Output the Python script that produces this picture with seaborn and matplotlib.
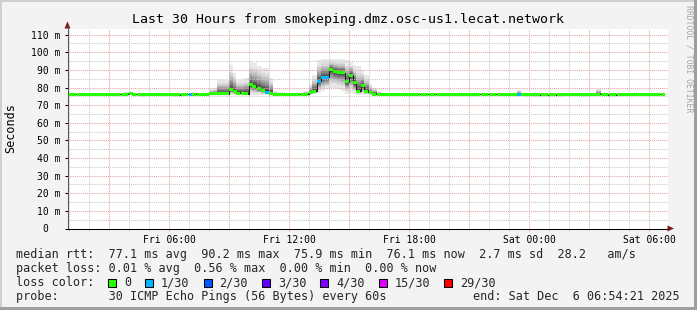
import numpy as np
import pandas as pd
import matplotlib
matplotlib.use("Agg")
import matplotlib.pyplot as plt
import matplotlib.dates as mdates
from matplotlib.patches import Polygon, Rectangle
import seaborn as sns

# ---------------- data ----------------
title = "Last 30 Hours from smokeping.dmz.osc-us1.lecat.network"
y_label = "Seconds"
watermark = "RRDTOOL / TOBI OETIKER"
graph_start = "2025-12-05 00:54:21"
graph_end = "2025-12-06 06:54:21"
first_bin = "2025-12-05 00:57:21"
bin_minutes = 12

median_ms = [
    76.2, 76.2, 76.2, 76.2, 76.1, 76.2, 76.2, 76.2, 76.1, 76.1,
    76.1, 76.2, 76.2, 76.2, 76.2, 76.4, 76.2, 76.1, 76.0, 76.2,
    76.2, 76.2, 76.2, 76.3, 76.3, 76.1, 76.0, 76.0, 76.1, 76.2,
    76.2, 76.2, 76.2, 76.3, 76.3, 76.4, 76.4, 76.5, 76.5, 76.5,
    78.6, 77.7, 76.8, 76.5, 76.6, 81.5, 80.4, 79.3, 78.3, 77.4,
    76.6, 76.2, 76.1, 76.1, 76.1, 76.1, 76.1, 76.1, 76.1, 76.2,
    76.9, 78.0, 83.5, 85.8, 85.8, 90.2, 89.1, 88.5, 88.5, 83.2,
    86.9, 82.7, 77.8, 80.9, 77.7, 76.9, 76.3, 76.1, 76.1, 76.1,
    76.1, 76.1, 76.1, 76.1, 76.1, 76.1, 76.1, 76.1, 76.1, 76.1,
    76.1, 76.1, 76.1, 76.1, 76.1, 76.1, 76.1, 76.1, 76.1, 76.1,
    76.1, 76.1, 76.1, 76.1, 76.1, 76.1, 76.1, 76.1, 76.1, 76.1,
    76.1, 76.1, 76.1, 76.1, 76.0, 76.0, 76.0, 75.9, 75.9, 75.9,
    76.0, 76.0, 76.0, 76.1, 76.2, 76.3, 76.2, 76.0, 75.9, 76.0,
    76.1, 76.1, 76.1, 76.1, 76.0, 76.0, 76.0, 76.1, 76.1, 76.1,
    76.1, 76.1, 76.1, 76.1, 76.1, 76.1, 76.1, 76.1, 76.1,
]

smoke_hi_ms = [
    76.5, 76.5, 76.5, 76.5, 76.4, 76.5, 76.5, 76.5, 76.4, 76.4,
    76.4, 76.5, 76.5, 76.6, 77.6, 77.4, 76.5, 77.0, 76.3, 76.5,
    76.5, 76.5, 76.6, 77.0, 76.9, 76.4, 76.3, 76.3, 76.4, 76.5,
    76.6, 77.4, 76.6, 76.8, 77.0, 79.0, 79.5, 84.5, 84.5, 84.5,
    92.6, 88.5, 84.5, 84.5, 85.6, 94.6, 94.0, 92.5, 91.3, 91.0,
    85.6, 78.0, 77.5, 77.3, 77.0, 76.6, 76.5, 76.7, 77.5, 78.0,
    82.0, 86.9, 95.4, 96.4, 96.4, 96.4, 96.2, 96.0, 96.0, 95.4,
    94.4, 92.6, 92.0, 89.8, 87.0, 82.0, 80.0, 78.0, 77.0, 76.6,
    76.5, 76.5, 76.5, 76.5, 76.5, 76.5, 76.5, 76.5, 76.5, 76.5,
    76.5, 76.4, 76.4, 76.5, 76.4, 76.4, 76.5, 76.4, 76.4, 76.4,
    76.4, 76.4, 76.4, 76.4, 76.4, 76.4, 76.4, 76.4, 76.4, 76.4,
    76.4, 76.4, 78.8, 76.4, 76.3, 77.0, 77.2, 76.8, 76.2, 76.2,
    76.3, 76.3, 76.3, 76.4, 76.5, 76.9, 76.5, 76.3, 76.2, 76.3,
    76.4, 76.4, 79.4, 77.0, 76.3, 76.3, 76.3, 76.8, 76.4, 76.4,
    76.4, 76.4, 76.4, 76.4, 76.4, 76.4, 76.4, 76.4, 76.4,
]

smoke_lo_ms = [
    75.8, 75.8, 75.8, 75.8, 75.7, 75.8, 75.8, 75.8, 75.7, 75.7,
    75.7, 75.8, 75.8, 75.8, 75.8, 76.0, 75.8, 75.7, 75.6, 75.8,
    75.8, 75.8, 75.8, 75.9, 75.9, 75.7, 75.6, 75.6, 75.7, 75.8,
    75.8, 75.8, 75.8, 75.9, 75.9, 75.8, 75.8, 75.8, 75.8, 75.8,
    75.9, 75.9, 75.8, 75.8, 75.8, 76.0, 76.0, 76.0, 75.9, 75.9,
    75.8, 75.8, 75.7, 75.7, 75.7, 75.7, 75.7, 75.7, 75.7, 75.8,
    76.0, 76.2, 77.0, 78.0, 79.0, 80.0, 80.0, 79.0, 78.0, 76.5,
    77.0, 76.5, 76.0, 76.0, 76.0, 76.0, 75.9, 75.7, 75.7, 75.7,
    75.7, 75.7, 75.7, 75.7, 75.7, 75.7, 75.7, 75.7, 75.7, 75.7,
    75.7, 75.7, 75.7, 75.7, 75.7, 75.7, 75.7, 75.7, 75.7, 75.7,
    75.7, 75.7, 75.7, 75.7, 75.7, 75.7, 75.7, 75.7, 75.7, 75.7,
    75.7, 75.7, 75.7, 75.7, 75.6, 75.6, 75.6, 75.5, 75.5, 75.5,
    75.6, 75.6, 75.6, 75.7, 75.8, 75.9, 75.8, 75.6, 75.5, 75.6,
    75.7, 75.7, 75.7, 75.7, 75.6, 75.6, 75.6, 75.7, 75.7, 75.7,
    75.7, 75.7, 75.7, 75.7, 75.7, 75.7, 75.7, 75.7, 75.7,
]

loss_pings = [
    0, 0, 0, 0, 0, 0, 0, 0, 0, 0,
    0, 0, 0, 0, 0, 0, 0, 0, 0, 0,
    0, 0, 0, 0, 0, 0, 0, 0, 0, 0,
    1, 0, 0, 0, 0, 0, 0, 0, 0, 0,
    0, 0, 0, 0, 0, 0, 0, 0, 0, 1,
    0, 0, 0, 0, 0, 0, 0, 0, 0, 0,
    0, 0, 1, 1, 1, 0, 0, 0, 0, 0,
    0, 0, 0, 0, 0, 0, 0, 0, 0, 0,
    0, 0, 0, 0, 0, 0, 0, 0, 0, 0,
    0, 0, 0, 0, 0, 0, 0, 0, 0, 0,
    0, 0, 0, 0, 0, 0, 0, 0, 0, 0,
    0, 0, 1, 0, 0, 0, 0, 0, 0, 0,
    0, 0, 0, 0, 0, 0, 0, 0, 0, 0,
    0, 0, 0, 0, 0, 0, 0, 0, 0, 0,
    0, 0, 0, 0, 0, 0, 0, 0, 0,
]

loss_levels = [0, 1, 2, 3, 4, 15, 29]
loss_labels = ["0", "1/30", "2/30", "3/30", "4/30", "15/30", "29/30"]
loss_colors = ["#26ff00", "#00b8ff", "#0059ff", "#5e00ff", "#7e00ff", "#dd00ff", "#ff0000"]

y_tick_values = [0, 10, 20, 30, 40, 50, 60, 70, 80, 90, 100, 110]
y_tick_labels = ["0  ", "10 m", "20 m", "30 m", "40 m", "50 m", "60 m",
                 "70 m", "80 m", "90 m", "100 m", "110 m"]
x_tick_times = ["2025-12-05 06:00", "2025-12-05 12:00", "2025-12-05 18:00",
                "2025-12-06 00:00", "2025-12-06 06:00"]
x_tick_labels = ["Fri 06:00", "Fri 12:00", "Fri 18:00", "Sat 00:00", "Sat 06:00"]

line_rtt = "median rtt:  77.1 ms avg  90.2 ms max  75.9 ms min  76.1 ms now  2.7 ms sd  28.2   am/s"
line_loss = "packet loss: 0.01 % avg  0.56 % max  0.00 % min  0.00 % now"
line_color = "loss color:"
line_probe = "probe:       30 ICMP Echo Pings (56 Bytes) every 60s"
line_end = "end: Sat Dec  6 06:54:21 2025"

# ---------------- style ----------------
sns.set_theme(style="white")
plt.rcParams["font.family"] = ["DejaVu Sans Mono"]
plt.rcParams["axes.unicode_minus"] = False

W, H = 697, 310
BG = "#f3f3f3"
GRID_MINOR = "#c9c9c9"
GRID_MAJOR = "#e5a3a3"
ARROW = "#7a1a1a"


def fx(x):
    return x / W


def fy(y):
    return 1 - y / H


fig = plt.figure(figsize=(W / 100, H / 100), dpi=100, facecolor=BG)
ax = fig.add_axes([fx(67.5), fy(228.5), 600 / W, 200 / H])
ax.set_facecolor("white")

t0 = pd.Timestamp(graph_start)
t1 = pd.Timestamp(graph_end)
ax.set_xlim(t0, t1)
ax.set_ylim(0, 113.5)

n = len(median_ms)
med = np.array(median_ms)
hi = np.array(smoke_hi_ms)
lo = np.array(smoke_lo_ms)
edges = pd.date_range(first_bin, periods=n + 1, freq=f"{bin_minutes}min")

# smoke: nested bands, lighter outside, darker towards the median
N = 12
for j in range(N):
    g = (j / N) ** 0.55
    upper = hi - (hi - med) * g
    lower = lo + (med - lo) * g
    shade = 0.91 - 0.70 * j / (N - 1)
    ax.fill_between(edges, np.append(lower, lower[-1]), np.append(upper, upper[-1]),
                    step="post", color=str(shade), linewidth=0, zorder=1)

# grid (on top of smoke)
for t in pd.date_range(t0.ceil("h"), t1, freq="1h"):
    major = t.hour % 3 == 0
    ax.axvline(t, color=GRID_MAJOR if major else GRID_MINOR, lw=0.75,
               ls=(0, (1, 1)), zorder=2)
for v in np.arange(5, 113.5, 5):
    major = int(round(v)) % 10 == 0
    ax.axhline(v, color=GRID_MAJOR if major else GRID_MINOR, lw=0.75,
               ls=(0, (1, 1)), zorder=2)

# median line
med_df = pd.DataFrame({"time": edges, "median": np.append(med, med[-1])})
sns.lineplot(data=med_df, x="time", y="median", drawstyle="steps-post",
             color="#1a1a1a", linewidth=0.8, estimator=None, sort=False,
             ax=ax, zorder=3, legend=False)


def loss_color(count):
    c = loss_colors[0]
    for lvl, col in zip(loss_levels, loss_colors):
        if count >= lvl:
            c = col
    return c


bar_colors = [loss_color(c) for c in loss_pings]
ax.bar(edges[:-1], np.full(n, 1.7), bottom=med - 0.85, width=bin_minutes / 1440,
       align="edge", color=bar_colors, linewidth=0, zorder=4)

# axes / ticks
ax.set_xlabel("")
ax.set_ylabel("")
ax.set_yticks(y_tick_values, y_tick_labels)
ax.set_xticks(pd.to_datetime(x_tick_times), x_tick_labels)
ax.xaxis.set_minor_locator(mdates.HourLocator())
ax.tick_params(axis="y", which="major", length=2.5, width=0.75, color="black",
               pad=2.8, labelsize=7, labelcolor="black", left=True)
ax.tick_params(axis="x", which="major", length=1.6, width=0.75, color=GRID_MAJOR,
               pad=3.2, labelsize=7, labelcolor="black", bottom=True)
ax.tick_params(axis="x", which="minor", length=1.6, width=0.75, color=GRID_MINOR,
               bottom=True)
for s in ["top", "right"]:
    ax.spines[s].set_visible(False)
ax.spines["left"].set_color("#555555")
ax.spines["left"].set_linewidth(0.75)
ax.spines["bottom"].set_color("black")
ax.spines["bottom"].set_linewidth(0.75)
ax.grid(False)

# axis arrows
fig.add_artist(Polygon([(fx(67.5), fy(21.5)), (fx(64.5), fy(28.5)), (fx(70.5), fy(28.5))],
                       closed=True, transform=fig.transFigure, color=ARROW, lw=0))
fig.add_artist(plt.Line2D([fx(67.5), fx(67.5)], [fy(28.5), fy(26)],
                          transform=fig.transFigure, color="#555555", lw=0.75))
fig.add_artist(Polygon([(fx(674), fy(228.5)), (fx(667.5), fy(225.5)), (fx(667.5), fy(231.5))],
                       closed=True, transform=fig.transFigure, color=ARROW, lw=0))

# texts
fig.text(fx(348), fy(19), title, ha="center", va="center", fontsize=9.5, color="black")
fig.text(fx(11), fy(128), y_label, rotation=90, ha="center", va="center",
         fontsize=8.5, color="black")
fig.text(fx(689), fy(5), watermark, rotation=270, ha="center", va="top",
         fontsize=5.9, color="#a6a6a6")

LEG_FS = 8.5
CHAR_W = 7.1
fig.text(fx(16), fy(254.5), line_rtt, ha="left", va="center", fontsize=LEG_FS)
fig.text(fx(16), fy(268.5), line_loss, ha="left", va="center", fontsize=LEG_FS)
fig.text(fx(16), fy(282.5), line_color, ha="left", va="center", fontsize=LEG_FS)
bx = 108
for lab, col in zip(loss_labels, loss_colors):
    fig.add_artist(Rectangle((fx(bx), fy(286.5)), 8 / W, 8 / H, transform=fig.transFigure,
                             facecolor=col, edgecolor="black", lw=0.75))
    fig.text(fx(bx + 16), fy(282.5), lab, ha="left", va="center", fontsize=LEG_FS)
    bx = bx + 16 + len(lab) * CHAR_W + 14
fig.text(fx(16), fy(296.5), line_probe, ha="left", va="center", fontsize=LEG_FS)
fig.text(fx(680), fy(296.5), line_end, ha="right", va="center", fontsize=LEG_FS)

# 3D frame
fig.add_artist(Rectangle((0, fy(2)), 1, 2 / H, transform=fig.transFigure, color="#cfcfcf", lw=0))
fig.add_artist(Rectangle((0, 0), 2 / W, 1, transform=fig.transFigure, color="#cfcfcf", lw=0))
fig.add_artist(Rectangle((0, 0), 1, 3 / H, transform=fig.transFigure, color="#9e9e9e", lw=0))
fig.add_artist(Rectangle((fx(694), 0), 3 / W, 1, transform=fig.transFigure, color="#9e9e9e", lw=0))

fig.savefig("out.png", dpi=100, facecolor=BG)
